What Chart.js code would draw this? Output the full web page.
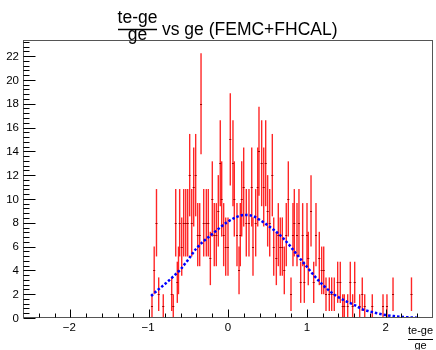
<!DOCTYPE html>
<html>
<head>
<meta charset="utf-8">
<script src="https://cdn.jsdelivr.net/npm/chart.js@4/dist/chart.umd.min.js"></script>
<style>
html,body{margin:0;padding:0;background:#fff;}
#wrap{width:436px;height:350px;position:relative;}
</style>
</head>
<body>
<div id="wrap"><canvas id="c" width="436" height="350"></canvas></div>
<script>
// Histogram bins (centre x), counts and Poisson errors
const binX = [-0.964,-0.936,-0.907,-0.879,-0.821,-0.714,-0.694,-0.663,-0.643,-0.628,-0.613,-0.587,-0.562,-0.536,-0.511,-0.486,-0.460,-0.435,-0.410,
  -0.384,-0.359,-0.342,-0.308,-0.275,-0.250,-0.224,-0.199,-0.174,-0.148,-0.123,-0.098,-0.080,-0.055,-0.029,0.000,0.029,0.063,0.080,0.114,0.140,0.156,0.174,0.199,0.232,
  0.266,0.301,0.317,0.351,0.377,0.393,0.427,0.453,0.478,0.503,0.529,0.562,0.580,0.613,0.638,0.663,0.689,0.714,0.739,0.765,0.799,0.824,0.841,0.875,0.900,0.922,
  0.947,0.968,1.002,1.018,1.053,1.087,1.116,1.158,1.188,1.214,1.243,1.285,1.315,1.348,1.391,1.424,1.455,1.475,1.518,1.551,1.581,
  1.607,1.670,1.703,1.734,1.830,1.966,2.016,2.093,2.327];
const counts = [1,4,8,2,1,2,1,8,3,4,8,6,8,8,8,12,8,11,12,
  7,7,18,8,8,8,5,10,7,7,9,13,10,7,6,6,15,13,10,7,4,7,10,11,8,
  8,11,6,8,11,14,13,11,13,9,8,12,6,5,7,6,6,4,7,10,2,7,8,7,8,3,
  7,3,7,5,9,3,7,5,4,4,2,2,2,2,3,3,1,1,1,3,1,
  3,1,2,1,1,1,1,2,2];
const errors = [1,2,2.83,1.41,1,1.41,1,2.83,1.73,2,2.83,2.45,2.83,2.83,2.83,3.46,2.83,3.32,3.46,
  2.65,2.65,4.24,2.83,2.83,2.83,2.24,3.16,2.65,2.65,3,3.61,3.16,2.65,2.45,2.45,3.87,3.61,3.16,2.65,2,2.65,3.16,3.32,2.83,
  2.83,3.32,2.45,2.83,3.32,3.74,3.61,3.32,3.61,3,2.83,3.46,2.45,2.24,2.65,2.45,2.45,2,2.65,3.16,1.41,2.65,2.83,2.65,2.83,1.73,
  2.65,1.73,2.65,2.24,3,1.73,2.65,2.24,2,2,1.41,1.41,1.41,1.41,1.73,1.73,1,1,1,1.73,1,
  1.73,1,1.41,1,1,1,1,1.41,1.41];
const binWidth = 0.026;

// Fit curve samples
const fitX = [-0.975,-0.9,-0.8,-0.7,-0.6,-0.5,-0.4,-0.3,-0.2,-0.1,0.0,0.1,0.2,0.3,0.4,0.5,0.6,0.7,0.8,0.9,1.0,1.1,1.2,1.3,1.4,1.5,1.6,1.7,1.8,1.9,2.0,2.1,2.2,2.3,2.43];
const fitY = [1.85,2.3,2.85,3.45,4.1,4.95,5.85,6.5,7.05,7.6,8.1,8.45,8.65,8.6,8.25,7.8,7.3,6.7,5.95,5.1,4.3,3.5,2.8,2.2,1.75,1.4,1.1,0.75,0.55,0.38,0.25,0.16,0.1,0.05,0.02];

// Axis tick labels
const xTickLabels = [-2,-1,0,1,2];
const yTickLabels = [0,2,4,6,8,10,12,14,16,18,20,22];

const FONT = '"Liberation Sans", Arial, Helvetica, sans-serif';

const rootPlugin = {
  id: 'rootStyle',
  beforeDatasetsDraw(chart) {
    const ctx = chart.ctx, xs = chart.scales.x, ys = chart.scales.y;
    ctx.save();
    for (let i = 0; i < binX.length; i++) {
      const px = xs.getPixelForValue(binX[i]);
      const pyTop = ys.getPixelForValue(counts[i] + errors[i]);
      const pyBot = ys.getPixelForValue(Math.max(0, counts[i] - errors[i]));
      const py = ys.getPixelForValue(counts[i]);
      ctx.strokeStyle = 'rgba(255,0,0,0.85)';
      ctx.lineWidth = 1.4;
      ctx.beginPath(); ctx.moveTo(px, pyTop); ctx.lineTo(px, pyBot); ctx.stroke();
      ctx.strokeStyle = '#a00000';
      ctx.lineWidth = 1;
      const x1 = xs.getPixelForValue(binX[i] - binWidth/2), x2 = xs.getPixelForValue(binX[i] + binWidth/2);
      ctx.beginPath(); ctx.moveTo(x1, Math.round(py)+0.5); ctx.lineTo(x2, Math.round(py)+0.5); ctx.stroke();
    }
    ctx.restore();
  },
  afterDraw(chart) {
    const ctx = chart.ctx, xs = chart.scales.x, ys = chart.scales.y, a = chart.chartArea;
    ctx.save();
    // frame
    ctx.strokeStyle = '#555';
    ctx.lineWidth = 1;
    ctx.strokeRect(Math.round(a.left)+0.5, Math.round(a.top)+0.5, Math.round(a.right-a.left)-1, Math.round(a.bottom-a.top)-1);
    ctx.strokeStyle = '#000';
    // x ticks
    const yb = Math.round(a.bottom) - 0.5;
    for (let k = -13; k <= 13; k++) {
      const v = k * 0.2;
      if (v <= xs.min + 1e-6 || v >= xs.max - 1e-6) continue;
      const px = Math.round(xs.getPixelForValue(v)) + 0.5;
      const major = Math.abs(v - Math.round(v)) < 1e-6;
      ctx.beginPath(); ctx.moveTo(px, yb); ctx.lineTo(px, yb - (major ? 8 : 4)); ctx.stroke();
    }
    // y ticks
    const xl = Math.round(a.left) + 0.5;
    for (let k = 0; k <= 58; k++) {
      const v = k * 0.4;
      if (v > ys.max) break;
      const py = Math.round(ys.getPixelForValue(v)) + 0.5;
      const major = Math.abs(v/2 - Math.round(v/2)) < 1e-6;
      ctx.beginPath(); ctx.moveTo(xl, py); ctx.lineTo(xl + (major ? 12 : 6), py); ctx.stroke();
    }
    // tick labels
    ctx.fillStyle = '#000';
    ctx.font = '11.5px ' + FONT;
    ctx.textAlign = 'center'; ctx.textBaseline = 'alphabetic';
    xTickLabels.forEach(v => {
      ctx.fillText(String(v).replace('-', '\u2212'), xs.getPixelForValue(v) - (v < 0 ? 1 : 0), 331);
    });
    ctx.textAlign = 'right'; ctx.textBaseline = 'middle';
    yTickLabels.forEach(v => {
      ctx.fillText(String(v), 19, ys.getPixelForValue(v) + 0.5);
    });
    // title
    ctx.font = '17.5px ' + FONT;
    ctx.textBaseline = 'alphabetic';
    ctx.textAlign = 'center';
    ctx.fillText('te-ge', 137.5, 23);
    ctx.fillText('ge', 137.5, 39.5);
    ctx.lineWidth = 1.5;
    ctx.beginPath(); ctx.moveTo(118, 29.5); ctx.lineTo(157, 29.5); ctx.stroke();
    ctx.textAlign = 'left';
    ctx.fillText('vs ge (FEMC+FHCAL)', 162, 34.5);
    // x axis title
    ctx.font = '11px ' + FONT;
    ctx.textAlign = 'center';
    ctx.fillText('te-ge', 420.5, 334);
    ctx.fillText('ge', 420.5, 348.5);
    ctx.lineWidth = 1;
    ctx.beginPath(); ctx.moveTo(408, 339.5); ctx.lineTo(433, 339.5); ctx.stroke();
    ctx.restore();
  }
};

new Chart(document.getElementById('c'), {
  type: 'scatter',
  data: {
    datasets: [
      {
        label: 'hist',
        data: binX.map((x, i) => ({x: x, y: counts[i]})),
        pointRadius: 0,
        showLine: false
      },
      {
        type: 'line',
        label: 'fit',
        data: fitX.map((x, i) => ({x: x, y: fitY[i]})),
        borderColor: '#0000ff',
        borderWidth: 2.5,
        borderDash: [2.5, 2],
        pointRadius: 0,
        fill: false,
        cubicInterpolationMode: 'monotone'
      }
    ]
  },
  options: {
    responsive: false,
    animation: false,
    layout: { padding: { left: 23, right: 3, top: 40, bottom: 32 } },
    scales: {
      x: { type: 'linear', min: -2.6, max: 2.6, display: false },
      y: { type: 'linear', min: 0, max: 23.35, display: false }
    },
    plugins: { legend: { display: false }, tooltip: { enabled: false }, title: { display: false } }
  },
  plugins: [rootPlugin]
});
</script>
</body>
</html>
